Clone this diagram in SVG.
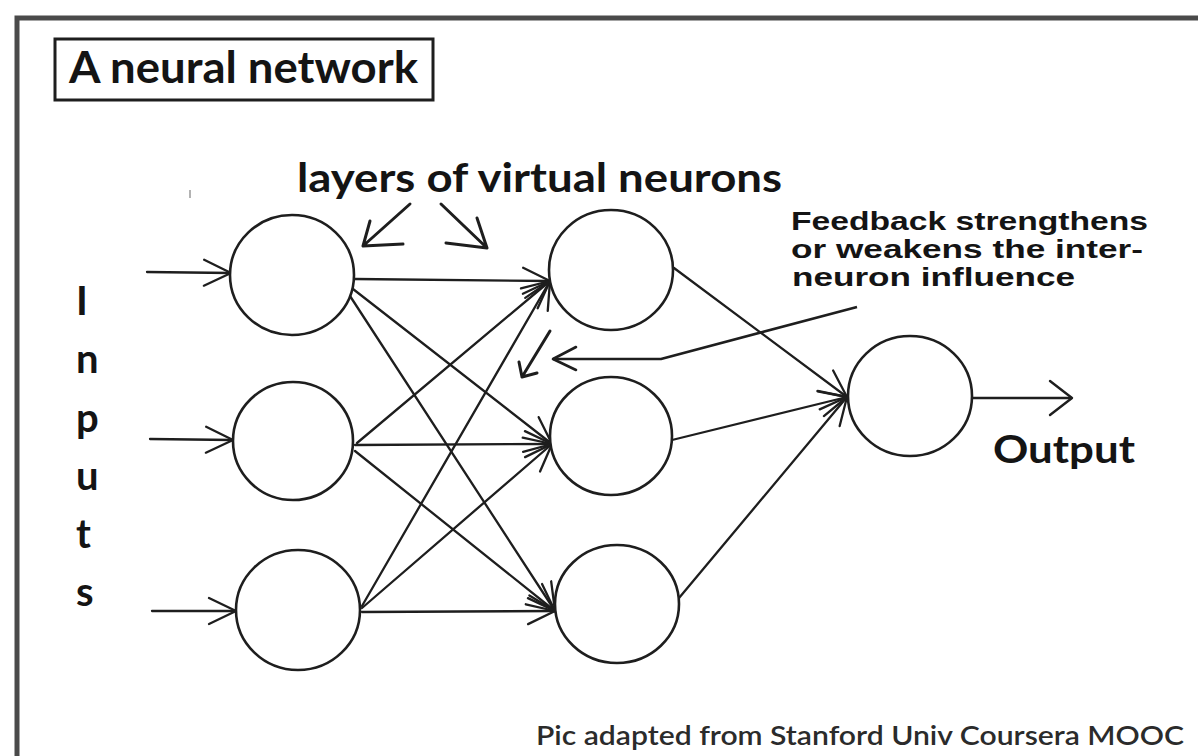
<svg xmlns="http://www.w3.org/2000/svg" width="1198" height="756" viewBox="0 0 1198 756">
<defs>
<style>
.frame{fill:none;stroke:#4a4a4a;stroke-width:5}
.neuron{fill:#fff;stroke:#1e1e1e;stroke-width:2.6}
.edgeA{fill:none;stroke:#1e1e1e;stroke-width:2.3;stroke-linecap:round;marker-end:url(#ah)}
.thick{fill:none;stroke:#1e1e1e;stroke-width:3;stroke-linecap:round;stroke-linejoin:round}
.t{font-family:Lato,"Liberation Sans",sans-serif;font-weight:bold;fill:#141414}
.fb{font-family:"Liberation Sans",Arial,sans-serif;font-weight:bold;fill:#141414;font-size:25px}
</style>
<marker id="ah" markerUnits="userSpaceOnUse" markerWidth="40" markerHeight="40" refX="0" refY="0" viewBox="-30 -20 40 40" orient="auto" overflow="visible">
<path d="M -27 -13 L 0 0 L -27 13" fill="none" stroke="#1e1e1e" stroke-width="2.3" stroke-linecap="round" stroke-linejoin="round"/>
</marker>
<marker id="ahOut" markerUnits="userSpaceOnUse" markerWidth="40" markerHeight="40" refX="0" refY="0" viewBox="-30 -20 40 40" orient="auto" overflow="visible">
<path d="M -22 -17 L 0 0 L -22 17" fill="none" stroke="#1e1e1e" stroke-width="2.4" stroke-linecap="round" stroke-linejoin="round"/>
</marker>
<marker id="ahFb" markerUnits="userSpaceOnUse" markerWidth="40" markerHeight="40" refX="0" refY="0" viewBox="-30 -20 40 40" orient="auto" overflow="visible">
<path d="M -23 -11 L 0 0 L -23 12" fill="none" stroke="#1e1e1e" stroke-width="2.6" stroke-linecap="round" stroke-linejoin="round"/>
</marker>
</defs>
<rect x="0" y="0" width="1198" height="756" fill="#ffffff"/>
<path class="frame" d="M 17 756 L 17 18 L 1198 18"/>
<g id="title">
<rect x="55" y="39" width="378" height="61" fill="none" stroke="#1e1e1e" stroke-width="3"/>
<text class="t" x="69" y="83" font-size="43" textLength="349" lengthAdjust="spacingAndGlyphs">A neural network</text>
</g>
<g id="layers-label">
<text class="t" x="297" y="192" font-size="40" textLength="485" lengthAdjust="spacingAndGlyphs">layers of virtual neurons</text>
<path class="thick" d="M 410 204 L 363 246 M 370 221 L 363 246 L 403 244"/>
<path class="thick" d="M 441 204 L 487 248 M 477 218 L 487 248 L 446 243"/>
</g>
<g id="feedback-label">
<text class="fb" x="791" y="230" textLength="357" lengthAdjust="spacingAndGlyphs">Feedback strengthens</text>
<text class="fb" x="791" y="258" textLength="352" lengthAdjust="spacingAndGlyphs">or weakens the inter-</text>
<text class="fb" x="792" y="286" textLength="283" lengthAdjust="spacingAndGlyphs">neuron influence</text>
</g>
<g id="inputs-label">
<text class="t" font-size="40" x="76" y="315">I</text>
<text class="t" font-size="40" x="76" y="373">n</text>
<text class="t" font-size="40" x="76" y="432">p</text>
<text class="t" font-size="40" x="76" y="490">u</text>
<text class="t" font-size="40" x="76" y="548">t</text>
<text class="t" font-size="40" x="76" y="606">s</text>
</g>
<g id="output-label">
<text class="t" x="993" y="463" font-size="38" textLength="142" lengthAdjust="spacingAndGlyphs">Output</text>
</g>
<g id="credit">
<text x="536" y="745" font-family="Lato,'Liberation Sans',sans-serif" font-weight="600" font-size="26" fill="#2b2b2b" textLength="648" lengthAdjust="spacingAndGlyphs">Pic adapted from Stanford Univ Coursera MOOC</text>
</g>
<g id="connectors">
<line class="edgeA" x1="147" y1="272" x2="231" y2="273"/>
<line class="edgeA" x1="150" y1="439" x2="233" y2="440"/>
<line class="edgeA" x1="152" y1="611" x2="236" y2="611"/>
<line class="edgeA" x1="355" y1="279" x2="550" y2="281"/>
<line class="edgeA" x1="353" y1="289" x2="552" y2="444"/>
<line class="edgeA" x1="350" y1="296" x2="555" y2="611"/>
<line class="edgeA" x1="357" y1="443" x2="550" y2="281"/>
<line class="edgeA" x1="355" y1="445" x2="552" y2="444"/>
<line class="edgeA" x1="355" y1="451" x2="555" y2="611"/>
<line class="edgeA" x1="362" y1="606" x2="550" y2="281"/>
<line class="edgeA" x1="362" y1="608" x2="552" y2="444"/>
<line class="edgeA" x1="362" y1="612" x2="555" y2="611"/>
<line class="edgeA" x1="674" y1="268" x2="847" y2="397"/>
<line class="edgeA" x1="672" y1="440" x2="847" y2="397"/>
<line class="edgeA" x1="679" y1="598" x2="847" y2="397"/>
<line x1="972" y1="398" x2="1072" y2="398" fill="none" stroke="#1e1e1e" stroke-width="2.4" marker-end="url(#ahOut)"/>
<polyline points="857,307 661,359 553,359" fill="none" stroke="#1e1e1e" stroke-width="2.6" stroke-linejoin="round" marker-end="url(#ahFb)"/>
<path class="thick" d="M 550 331 L 522 377 M 519 362 L 522 377 L 537 373" stroke-width="2.6"/>
<line x1="190" y1="190" x2="190" y2="198" stroke="#9a9a9a" stroke-width="1.5"/>
</g>
<g id="neuron-l1"><ellipse class="neuron" cx="292" cy="275" rx="62" ry="60"/></g>
<g id="neuron-l2"><ellipse class="neuron" cx="293" cy="441" rx="60" ry="59"/></g>
<g id="neuron-l3"><ellipse class="neuron" cx="298" cy="610" rx="62" ry="60"/></g>
<g id="neuron-m1"><ellipse class="neuron" cx="611" cy="270" rx="62" ry="60"/></g>
<g id="neuron-m2"><ellipse class="neuron" cx="611" cy="436" rx="61" ry="59"/></g>
<g id="neuron-m3"><ellipse class="neuron" cx="617" cy="604" rx="62" ry="59"/></g>
<g id="neuron-out"><ellipse class="neuron" cx="910" cy="396" rx="62" ry="60"/></g>
</svg>
